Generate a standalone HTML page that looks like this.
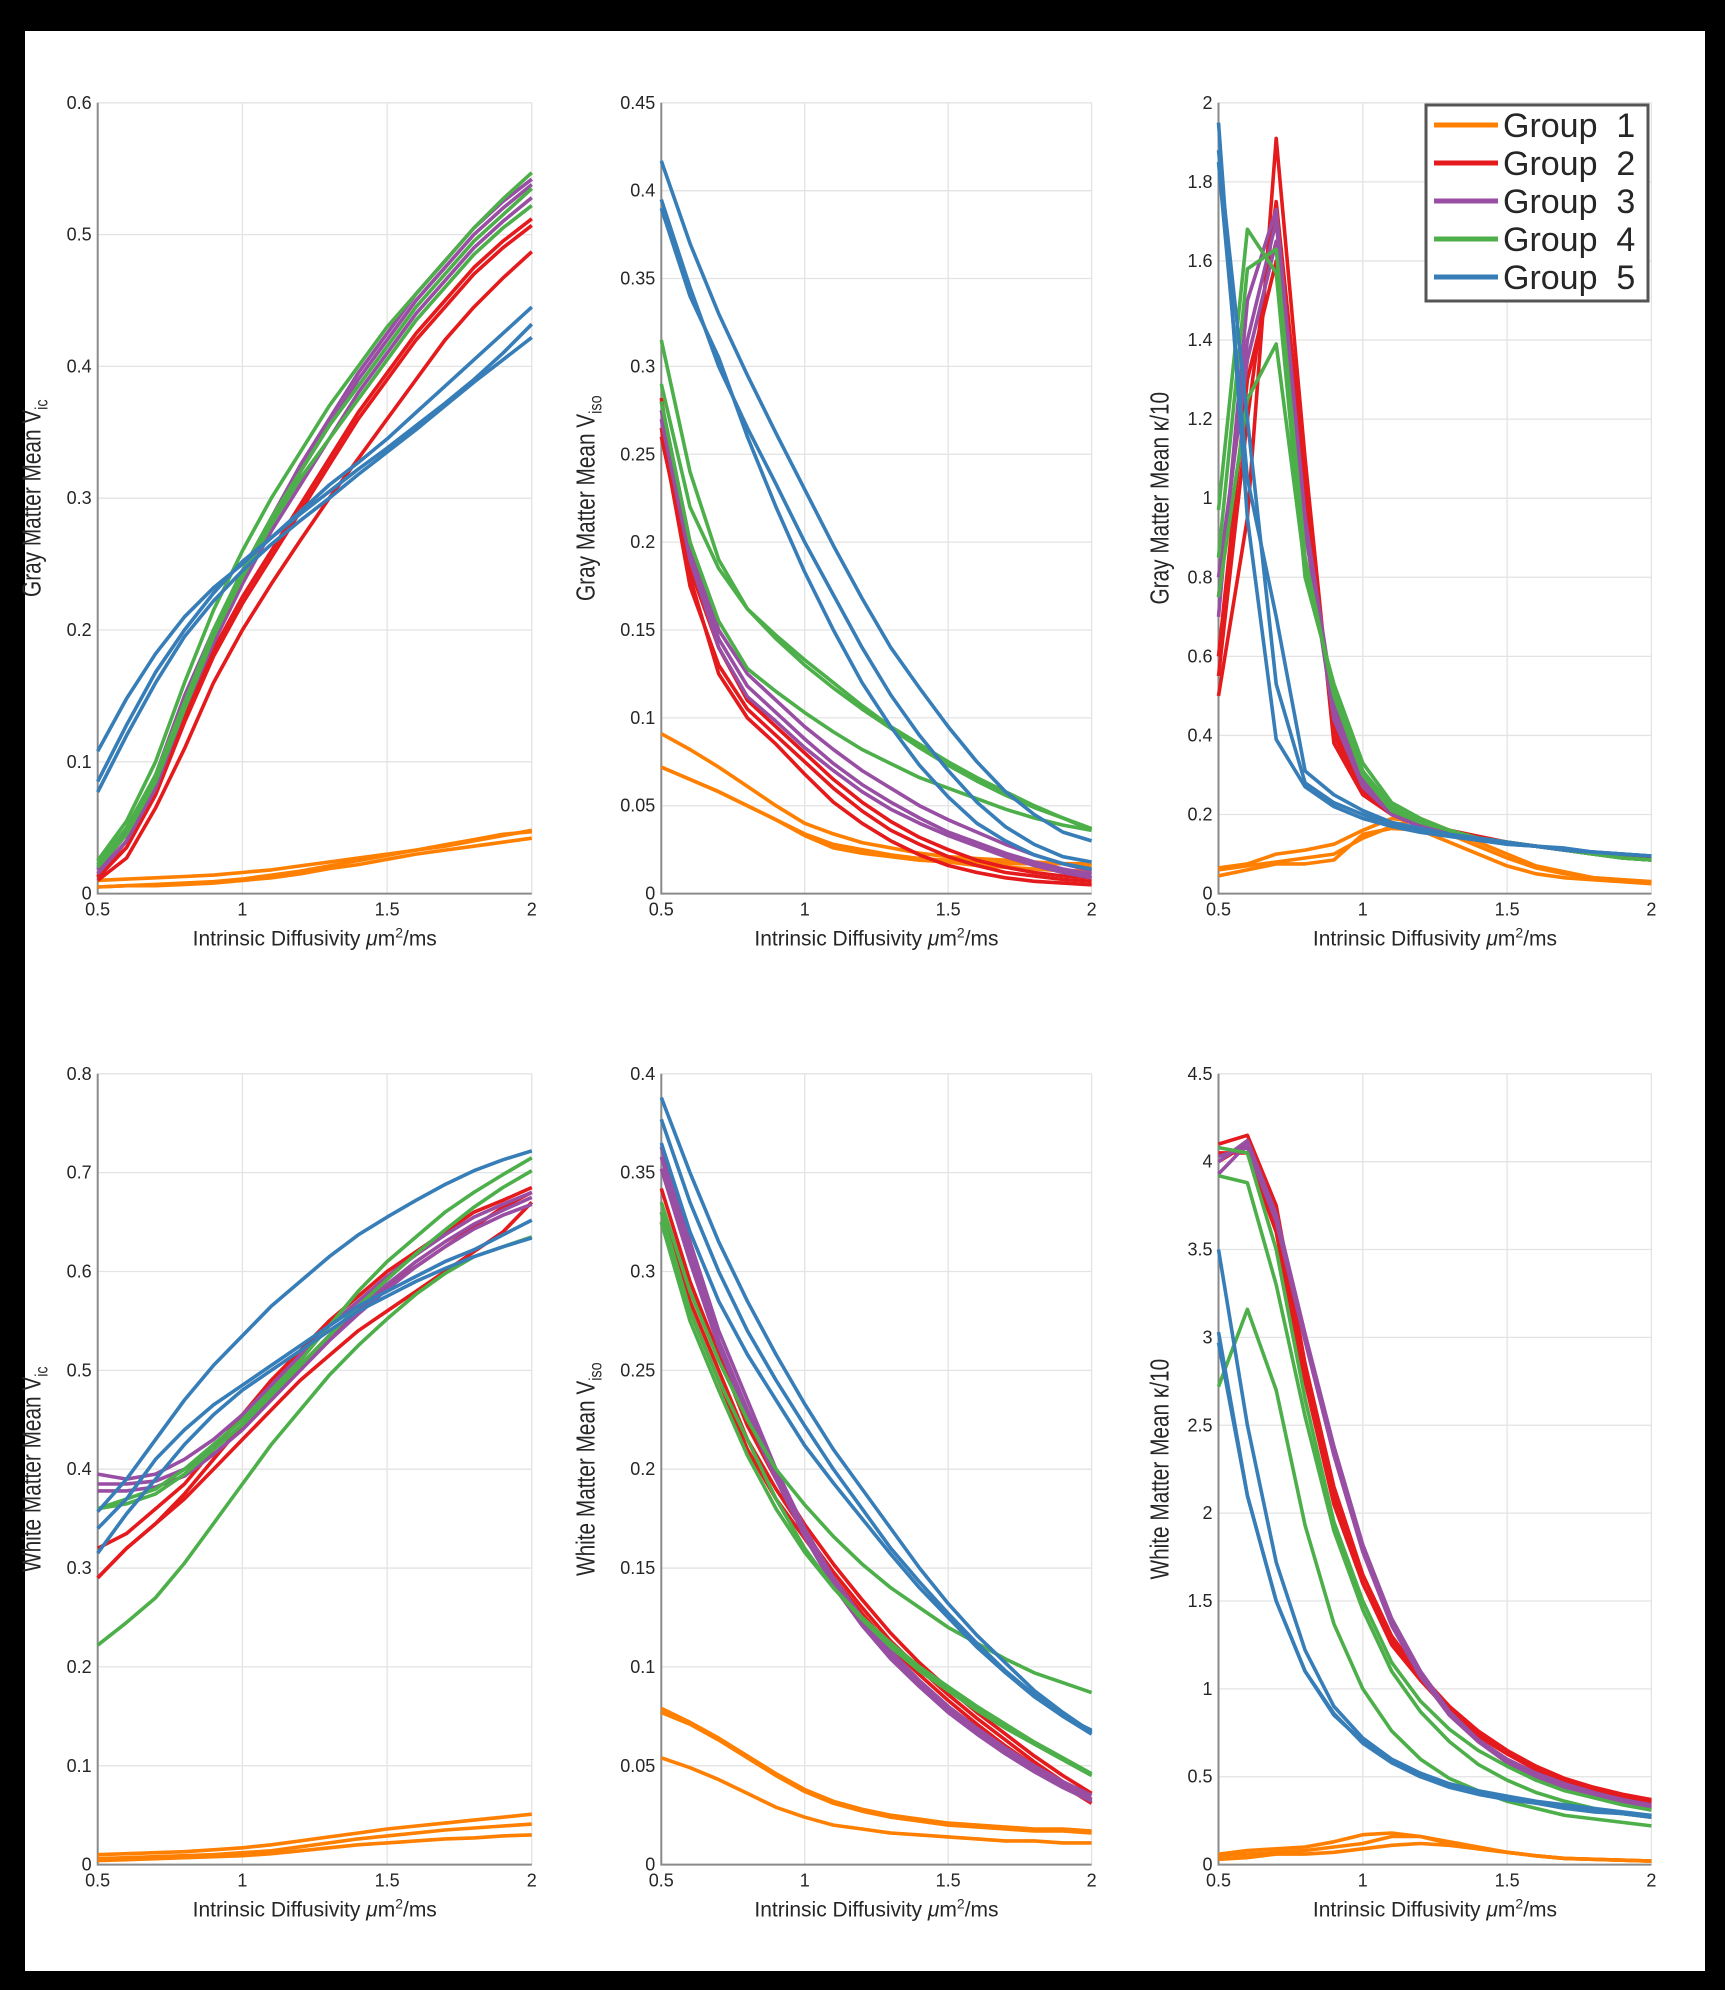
<!DOCTYPE html>
<html><head><meta charset="utf-8"><style>
html,body{margin:0;padding:0;background:#000;}
svg{display:block;}
text{font-family:"Liberation Sans",sans-serif;fill:#262626;}
</style></head><body>
<svg id="fig" width="1725" height="1990" viewBox="0 0 1725 1990" xmlns="http://www.w3.org/2000/svg">
<rect x="0" y="0" width="1725" height="1990" fill="#000"/>
<rect x="25" y="31" width="1680" height="1940" fill="#fff"/>
</svg>
<script>
const xs=[0.5,0.6,0.7,0.8,0.9,1.0,1.1,1.2,1.3,1.4,1.5,1.6,1.7,1.8,1.9,2.0];
const groupNames=["Group 1","Group 2","Group 3","Group 4","Group 5"];
const groupColors=["#ff7f00","#e41a1c","#984ea3","#4daf4a","#377eb8"];
const xTicks=[0.5,1,1.5,2];
const xTickLabels=["0.5","1","1.5","2"];

// Panel 1: Gray matter Vic
const gmVicG1=[[0.01,0.011,0.012,0.013,0.014,0.016,0.018,0.021,0.024,0.027,0.030,0.033,0.036,0.040,0.044,0.048],[0.005,0.006,0.007,0.008,0.009,0.011,0.014,0.017,0.021,0.025,0.029,0.033,0.037,0.041,0.045,0.047],[0.005,0.006,0.006,0.007,0.008,0.010,0.012,0.015,0.019,0.022,0.026,0.030,0.033,0.036,0.039,0.042]];
const gmVicG2=[[0.010,0.027,0.065,0.11,0.16,0.20,0.235,0.268,0.30,0.33,0.36,0.39,0.42,0.445,0.467,0.487],[0.012,0.035,0.075,0.13,0.18,0.22,0.255,0.29,0.325,0.36,0.39,0.42,0.445,0.47,0.49,0.507],[0.013,0.04,0.08,0.135,0.185,0.225,0.26,0.295,0.33,0.365,0.395,0.425,0.45,0.475,0.495,0.512]];
const gmVicG3=[[0.015,0.04,0.08,0.14,0.19,0.235,0.275,0.31,0.345,0.38,0.41,0.44,0.465,0.49,0.51,0.528],[0.018,0.045,0.085,0.145,0.195,0.24,0.28,0.32,0.355,0.39,0.42,0.45,0.475,0.50,0.52,0.538],[0.02,0.048,0.09,0.15,0.2,0.245,0.285,0.325,0.36,0.395,0.425,0.455,0.48,0.505,0.525,0.542]];
const gmVicG4=[[0.025,0.055,0.1,0.16,0.215,0.26,0.30,0.335,0.37,0.40,0.43,0.455,0.48,0.505,0.527,0.547],[0.022,0.05,0.09,0.145,0.2,0.245,0.285,0.32,0.355,0.385,0.415,0.445,0.47,0.495,0.515,0.535],[0.02,0.045,0.085,0.14,0.195,0.24,0.28,0.315,0.345,0.375,0.405,0.435,0.46,0.485,0.505,0.522]];
const gmVicG5=[[0.108,0.148,0.182,0.21,0.232,0.25,0.27,0.29,0.31,0.327,0.345,0.365,0.385,0.405,0.425,0.445],[0.085,0.128,0.168,0.2,0.228,0.252,0.27,0.288,0.305,0.322,0.338,0.355,0.372,0.39,0.41,0.432],[0.077,0.12,0.16,0.195,0.222,0.245,0.265,0.283,0.30,0.318,0.335,0.352,0.37,0.388,0.405,0.422]];
const gmVicTicks=[0,0.1,0.2,0.3,0.4,0.5,0.6];
const gmVicTickLabels=["0","0.1","0.2","0.3","0.4","0.5","0.6"];

// Panel 2: Gray matter Viso
const gmVisoG1=[[0.091,0.082,0.072,0.061,0.05,0.04,0.034,0.029,0.026,0.023,0.021,0.02,0.019,0.018,0.017,0.016],[0.072,0.065,0.058,0.05,0.042,0.034,0.028,0.025,0.022,0.02,0.019,0.018,0.017,0.017,0.017,0.017],[0.072,0.065,0.058,0.05,0.042,0.033,0.026,0.023,0.021,0.019,0.018,0.016,0.015,0.014,0.013,0.013]];
const gmVisoG2=[[0.282,0.18,0.125,0.1,0.085,0.068,0.052,0.04,0.03,0.022,0.016,0.012,0.009,0.007,0.006,0.005],[0.265,0.175,0.13,0.105,0.09,0.075,0.06,0.047,0.036,0.028,0.021,0.016,0.012,0.01,0.008,0.007],[0.26,0.185,0.14,0.11,0.095,0.08,0.065,0.052,0.041,0.032,0.025,0.019,0.015,0.012,0.01,0.009]];
const gmVisoG3=[[0.28,0.2,0.15,0.125,0.11,0.095,0.082,0.07,0.06,0.05,0.042,0.035,0.028,0.022,0.017,0.013],[0.275,0.195,0.145,0.118,0.103,0.088,0.074,0.062,0.052,0.043,0.035,0.029,0.023,0.018,0.014,0.011],[0.27,0.19,0.14,0.112,0.098,0.083,0.07,0.058,0.048,0.04,0.033,0.027,0.021,0.016,0.012,0.009]];
const gmVisoG4=[[0.315,0.24,0.19,0.162,0.145,0.13,0.117,0.105,0.094,0.083,0.073,0.064,0.056,0.049,0.043,0.037],[0.29,0.22,0.185,0.162,0.147,0.133,0.12,0.107,0.095,0.085,0.075,0.066,0.058,0.05,0.043,0.036],[0.28,0.2,0.155,0.128,0.115,0.103,0.092,0.082,0.074,0.066,0.06,0.054,0.048,0.043,0.039,0.036]];
const gmVisoG5=[[0.417,0.37,0.33,0.295,0.262,0.23,0.198,0.168,0.14,0.117,0.095,0.075,0.058,0.045,0.035,0.03],[0.395,0.345,0.3,0.265,0.233,0.2,0.17,0.14,0.113,0.09,0.07,0.052,0.038,0.028,0.021,0.018],[0.39,0.34,0.305,0.26,0.22,0.183,0.15,0.12,0.095,0.073,0.055,0.04,0.03,0.022,0.017,0.014]];
const gmVisoTicks=[0,0.05,0.1,0.15,0.2,0.25,0.3,0.35,0.4,0.45];
const gmVisoTickLabels=["0","0.05","0.1","0.15","0.2","0.25","0.3","0.35","0.4","0.45"];

// Panel 3: Gray matter kappa/10
const gmKapG1=[[0.065,0.075,0.1,0.11,0.125,0.16,0.19,0.18,0.15,0.12,0.09,0.065,0.05,0.04,0.035,0.03],[0.06,0.07,0.08,0.09,0.1,0.14,0.17,0.19,0.16,0.13,0.1,0.07,0.055,0.04,0.035,0.03],[0.045,0.06,0.075,0.075,0.085,0.15,0.165,0.16,0.13,0.1,0.07,0.05,0.04,0.035,0.03,0.025]];
const gmKapG2=[[0.5,0.95,1.91,1.1,0.38,0.25,0.2,0.175,0.16,0.145,0.13,0.12,0.11,0.1,0.095,0.09],[0.55,1.2,1.75,1.05,0.4,0.26,0.2,0.17,0.155,0.14,0.13,0.12,0.11,0.1,0.095,0.09],[0.6,1.3,1.6,1.0,0.42,0.27,0.2,0.17,0.155,0.14,0.13,0.12,0.11,0.1,0.095,0.09]];
const gmKapG3=[[0.7,1.5,1.73,0.95,0.48,0.29,0.21,0.18,0.16,0.14,0.13,0.12,0.11,0.1,0.09,0.085],[0.75,1.4,1.7,0.95,0.46,0.28,0.2,0.17,0.155,0.14,0.13,0.12,0.11,0.1,0.09,0.085],[0.8,1.35,1.65,0.92,0.44,0.27,0.2,0.17,0.15,0.14,0.13,0.12,0.11,0.1,0.09,0.085]];
const gmKapG4=[[0.97,1.68,1.57,0.8,0.53,0.33,0.23,0.19,0.16,0.14,0.13,0.12,0.11,0.1,0.09,0.085],[0.85,1.58,1.63,0.85,0.5,0.3,0.21,0.18,0.16,0.14,0.13,0.12,0.11,0.1,0.09,0.085],[0.75,1.25,1.39,0.82,0.52,0.31,0.22,0.18,0.16,0.14,0.13,0.12,0.11,0.1,0.09,0.085]];
const gmKapG5=[[1.95,0.95,0.39,0.27,0.22,0.19,0.17,0.155,0.145,0.135,0.125,0.12,0.11,0.105,0.1,0.095],[1.88,1.2,0.53,0.28,0.23,0.2,0.175,0.16,0.145,0.135,0.125,0.12,0.11,0.105,0.1,0.095],[1.85,1.05,0.7,0.31,0.25,0.21,0.18,0.165,0.15,0.14,0.13,0.12,0.115,0.105,0.1,0.095]];
const gmKapTicks=[0,0.2,0.4,0.6,0.8,1,1.2,1.4,1.6,1.8,2];
const gmKapTickLabels=["0","0.2","0.4","0.6","0.8","1","1.2","1.4","1.6","1.8","2"];

// Panel 4: White matter Vic
const wmVicG1=[[0.01,0.011,0.012,0.013,0.015,0.017,0.02,0.024,0.028,0.032,0.036,0.039,0.042,0.045,0.048,0.051],[0.006,0.007,0.008,0.009,0.01,0.012,0.014,0.018,0.022,0.026,0.029,0.032,0.035,0.037,0.039,0.041],[0.004,0.005,0.006,0.007,0.008,0.009,0.011,0.014,0.017,0.02,0.022,0.024,0.026,0.027,0.029,0.03]];
const wmVicG2=[[0.29,0.32,0.345,0.37,0.4,0.43,0.46,0.49,0.515,0.54,0.56,0.58,0.6,0.62,0.64,0.67],[0.29,0.32,0.345,0.375,0.41,0.445,0.475,0.505,0.535,0.56,0.585,0.605,0.625,0.645,0.665,0.68],[0.32,0.335,0.36,0.385,0.42,0.455,0.49,0.52,0.55,0.575,0.6,0.62,0.64,0.66,0.672,0.685]];
const wmVicG3=[[0.395,0.39,0.395,0.41,0.43,0.455,0.485,0.515,0.545,0.57,0.595,0.617,0.637,0.655,0.668,0.68],[0.385,0.385,0.388,0.4,0.42,0.445,0.475,0.505,0.535,0.562,0.587,0.61,0.63,0.648,0.662,0.675],[0.378,0.378,0.382,0.393,0.415,0.44,0.47,0.5,0.53,0.557,0.582,0.605,0.625,0.643,0.657,0.668]];
const wmVicG4=[[0.222,0.245,0.27,0.305,0.345,0.385,0.425,0.46,0.495,0.525,0.552,0.577,0.598,0.615,0.625,0.635],[0.36,0.37,0.38,0.4,0.425,0.45,0.48,0.51,0.545,0.58,0.61,0.635,0.66,0.68,0.698,0.715],[0.36,0.365,0.375,0.395,0.42,0.445,0.475,0.505,0.535,0.565,0.592,0.618,0.642,0.665,0.685,0.702]];
const wmVicG5=[[0.357,0.39,0.43,0.47,0.505,0.535,0.565,0.59,0.615,0.637,0.655,0.672,0.688,0.702,0.713,0.722],[0.34,0.37,0.41,0.44,0.465,0.485,0.505,0.525,0.545,0.565,0.58,0.595,0.61,0.622,0.637,0.652],[0.315,0.355,0.39,0.425,0.455,0.48,0.5,0.52,0.54,0.56,0.575,0.59,0.603,0.615,0.625,0.634]];
const wmVicTicks=[0,0.1,0.2,0.3,0.4,0.5,0.6,0.7,0.8];
const wmVicTickLabels=["0","0.1","0.2","0.3","0.4","0.5","0.6","0.7","0.8"];

// Panel 5: White matter Viso
const wmVisoG1=[[0.079,0.072,0.064,0.055,0.046,0.038,0.032,0.028,0.025,0.023,0.021,0.02,0.019,0.018,0.018,0.017],[0.077,0.071,0.063,0.054,0.045,0.037,0.031,0.027,0.024,0.022,0.02,0.019,0.018,0.017,0.017,0.016],[0.054,0.049,0.043,0.036,0.029,0.024,0.02,0.018,0.016,0.015,0.014,0.013,0.012,0.012,0.011,0.011]];
const wmVisoG2=[[0.325,0.28,0.245,0.21,0.185,0.165,0.145,0.127,0.11,0.096,0.083,0.071,0.06,0.05,0.04,0.031],[0.33,0.285,0.25,0.215,0.19,0.168,0.148,0.13,0.113,0.099,0.086,0.074,0.063,0.052,0.042,0.033],[0.342,0.295,0.258,0.222,0.195,0.172,0.152,0.134,0.117,0.102,0.089,0.077,0.066,0.055,0.045,0.036]];
const wmVisoG3=[[0.363,0.315,0.27,0.235,0.2,0.17,0.145,0.125,0.108,0.093,0.08,0.069,0.059,0.05,0.042,0.035],[0.358,0.31,0.265,0.23,0.198,0.168,0.143,0.123,0.106,0.091,0.078,0.067,0.057,0.048,0.04,0.033],[0.352,0.305,0.262,0.227,0.195,0.166,0.141,0.121,0.104,0.09,0.077,0.066,0.056,0.047,0.039,0.032]];
const wmVisoG4=[[0.335,0.29,0.255,0.225,0.2,0.182,0.166,0.152,0.14,0.13,0.12,0.112,0.104,0.097,0.092,0.087],[0.33,0.28,0.245,0.215,0.185,0.16,0.14,0.125,0.112,0.1,0.09,0.08,0.071,0.062,0.054,0.046],[0.325,0.275,0.24,0.207,0.18,0.158,0.14,0.124,0.11,0.098,0.088,0.078,0.069,0.061,0.053,0.045]];
const wmVisoG5=[[0.388,0.35,0.315,0.285,0.258,0.233,0.21,0.19,0.17,0.15,0.132,0.116,0.102,0.088,0.077,0.067],[0.377,0.335,0.3,0.27,0.245,0.222,0.2,0.18,0.16,0.143,0.127,0.112,0.098,0.086,0.075,0.066],[0.365,0.32,0.285,0.258,0.235,0.212,0.193,0.175,0.157,0.14,0.125,0.11,0.097,0.085,0.075,0.068]];
const wmVisoTicks=[0,0.05,0.1,0.15,0.2,0.25,0.3,0.35,0.4];
const wmVisoTickLabels=["0","0.05","0.1","0.15","0.2","0.25","0.3","0.35","0.4"];

// Panel 6: White matter kappa/10
const wmKapG1=[[0.06,0.08,0.09,0.1,0.13,0.17,0.18,0.16,0.12,0.09,0.07,0.05,0.035,0.03,0.025,0.02],[0.05,0.06,0.07,0.08,0.1,0.12,0.16,0.16,0.13,0.1,0.07,0.05,0.035,0.03,0.025,0.02],[0.03,0.04,0.06,0.06,0.07,0.09,0.11,0.12,0.11,0.09,0.07,0.05,0.035,0.03,0.025,0.02]];
const wmKapG2=[[4.1,4.15,3.75,2.85,2.15,1.65,1.3,1.08,0.9,0.76,0.65,0.56,0.49,0.44,0.4,0.37],[4.05,4.05,3.6,2.75,2.05,1.6,1.25,1.05,0.88,0.74,0.63,0.55,0.48,0.43,0.39,0.36],[4.0,4.1,3.65,2.8,2.1,1.6,1.27,1.05,0.87,0.73,0.63,0.54,0.47,0.42,0.38,0.35]];
const wmKapG3=[[3.93,4.1,3.68,3.0,2.35,1.8,1.38,1.08,0.86,0.7,0.59,0.51,0.45,0.4,0.36,0.33],[4.0,4.12,3.7,3.02,2.38,1.82,1.4,1.1,0.87,0.71,0.6,0.52,0.46,0.41,0.37,0.34],[4.03,4.08,3.66,2.98,2.33,1.78,1.36,1.07,0.85,0.7,0.58,0.5,0.44,0.39,0.35,0.32]];
const wmKapG4=[[4.08,4.05,3.5,2.65,1.95,1.5,1.15,0.93,0.77,0.65,0.56,0.48,0.42,0.38,0.34,0.31],[3.92,3.88,3.3,2.55,1.9,1.45,1.1,0.87,0.7,0.57,0.48,0.41,0.36,0.32,0.29,0.27],[2.72,3.16,2.7,1.93,1.37,1.0,0.76,0.6,0.49,0.42,0.36,0.32,0.28,0.26,0.24,0.22]];
const wmKapG5=[[3.5,2.5,1.72,1.22,0.9,0.72,0.6,0.52,0.46,0.42,0.39,0.36,0.34,0.32,0.3,0.28],[3.03,2.1,1.5,1.1,0.85,0.7,0.58,0.5,0.45,0.41,0.38,0.35,0.33,0.31,0.29,0.27],[2.97,2.1,1.5,1.1,0.86,0.69,0.58,0.5,0.44,0.4,0.37,0.35,0.32,0.3,0.29,0.27]];
const wmKapTicks=[0,0.5,1,1.5,2,2.5,3,3.5,4,4.5];
const wmKapTickLabels=["0","0.5","1","1.5","2","2.5","3","3.5","4","4.5"];

const NS="http://www.w3.org/2000/svg";
const svg=document.getElementById('fig');
function mk(tag,attrs,parent){const e=document.createElementNS(NS,tag);for(const k in attrs)e.setAttribute(k,attrs[k]);(parent||svg).appendChild(e);return e;}

const colsX=[[97.7,531.8],[661.3,1091.6],[1218.5,1651.4]];
const rowsY=[[102.8,893.6],[1073.8,1864.6]];
const ylOff=[57,67,50];
const panels=[
 {id:"gm-vic",c:0,r:0,groups:[gmVicG1,gmVicG2,gmVicG3,gmVicG4,gmVicG5],ticks:gmVicTicks,labels:gmVicTickLabels,yl:"Gray Matter Mean V",sub:"ic"},
 {id:"gm-viso",c:1,r:0,groups:[gmVisoG1,gmVisoG2,gmVisoG3,gmVisoG4,gmVisoG5],ticks:gmVisoTicks,labels:gmVisoTickLabels,yl:"Gray Matter Mean V",sub:"iso"},
 {id:"gm-kappa",c:2,r:0,groups:[gmKapG1,gmKapG2,gmKapG3,gmKapG4,gmKapG5],ticks:gmKapTicks,labels:gmKapTickLabels,yl:"Gray Matter Mean κ/10",sub:""},
 {id:"wm-vic",c:0,r:1,groups:[wmVicG1,wmVicG2,wmVicG3,wmVicG4,wmVicG5],ticks:wmVicTicks,labels:wmVicTickLabels,yl:"White Matter Mean V",sub:"ic"},
 {id:"wm-viso",c:1,r:1,groups:[wmVisoG1,wmVisoG2,wmVisoG3,wmVisoG4,wmVisoG5],ticks:wmVisoTicks,labels:wmVisoTickLabels,yl:"White Matter Mean V",sub:"iso"},
 {id:"wm-kappa",c:2,r:1,groups:[wmKapG1,wmKapG2,wmKapG3,wmKapG4,wmKapG5],ticks:wmKapTicks,labels:wmKapTickLabels,yl:"White Matter Mean κ/10",sub:""}
];

panels.forEach(p=>{
  const [x0,x1]=colsX[p.c],[y0,y1]=rowsY[p.r];
  const ymax=p.ticks[p.ticks.length-1];
  const sx=v=>x0+(v-0.5)/1.5*(x1-x0);
  const sy=v=>y1-v/ymax*(y1-y0);
  const g=mk('g',{});
  
  
  xTicks.forEach((t,i)=>{
    const l=mk('line',{x1:sx(t),x2:sx(t),y1:y0,y2:y1,stroke:'#e3e3e3','stroke-width':1.3},g);
    
    
    const tx=mk('text',{x:sx(t),y:y1+22,'font-size':18,'text-anchor':'middle'},g);
    tx.textContent=xTickLabels[i];
    
    
  });
  p.ticks.forEach((t,i)=>{
    const l=mk('line',{x1:x0,x2:x1,y1:sy(t),y2:sy(t),stroke:'#e3e3e3','stroke-width':1.3},g);
    
    
    const tx=mk('text',{x:x0-6,y:sy(t)+6,'font-size':18,'text-anchor':'end'},g);
    tx.textContent=p.labels[i];
    
    
  });
  const ax=mk('path',{d:`M${x0},${y0}V${y1}H${x1}`,stroke:'#8a8a8a','stroke-width':2,fill:'none'},g);
  
  
  p.groups.forEach((grp,gi)=>{
    grp.forEach((ser,si)=>{
      const d=ser.map((v,k)=>(k?'L':'M')+sx(xs[k]).toFixed(1)+','+sy(v).toFixed(1)).join('');
      const pl=mk('path',{d:d,stroke:groupColors[gi],'stroke-width':3.6,fill:'none','stroke-linejoin':'round'},g);
      
      
    });
  });
  const xl=mk('text',{x:(x0+x1)/2,y:y1+52,'font-size':21,'text-anchor':'middle'},g);
  xl.innerHTML='Intrinsic Diffusivity <tspan font-style="italic">μ</tspan>m<tspan dy="-8" font-size="14">2</tspan><tspan dy="8">/ms</tspan>';
  
  
  const lx=x0-ylOff[p.c], ly=(y0+y1)/2;
  const yl=mk('text',{x:0,y:0,'font-size':26,'text-anchor':'middle',transform:`translate(${lx},${ly}) rotate(-90) scale(0.8,1)`},g);
  yl.innerHTML=p.yl+(p.sub?`<tspan dy="7" font-size="18">${p.sub}</tspan>`:'');
  
  
});

const lg=mk('g',{});


mk('rect',{x:1426,y:105,width:222,height:196,fill:'#fff',stroke:'#555','stroke-width':3},lg);
groupNames.forEach((n,i)=>{
  const yy=125+i*38;
  const l=mk('line',{x1:1434,x2:1498,y1:yy,y2:yy,stroke:groupColors[i],'stroke-width':5},lg);
  
  
  const t=mk('text',{x:1503,y:yy+12,'font-size':34,fill:'#222'},lg);
  t.textContent=n.replace(' ','\u00a0 ');
  
  
});
</script>
</body></html>
